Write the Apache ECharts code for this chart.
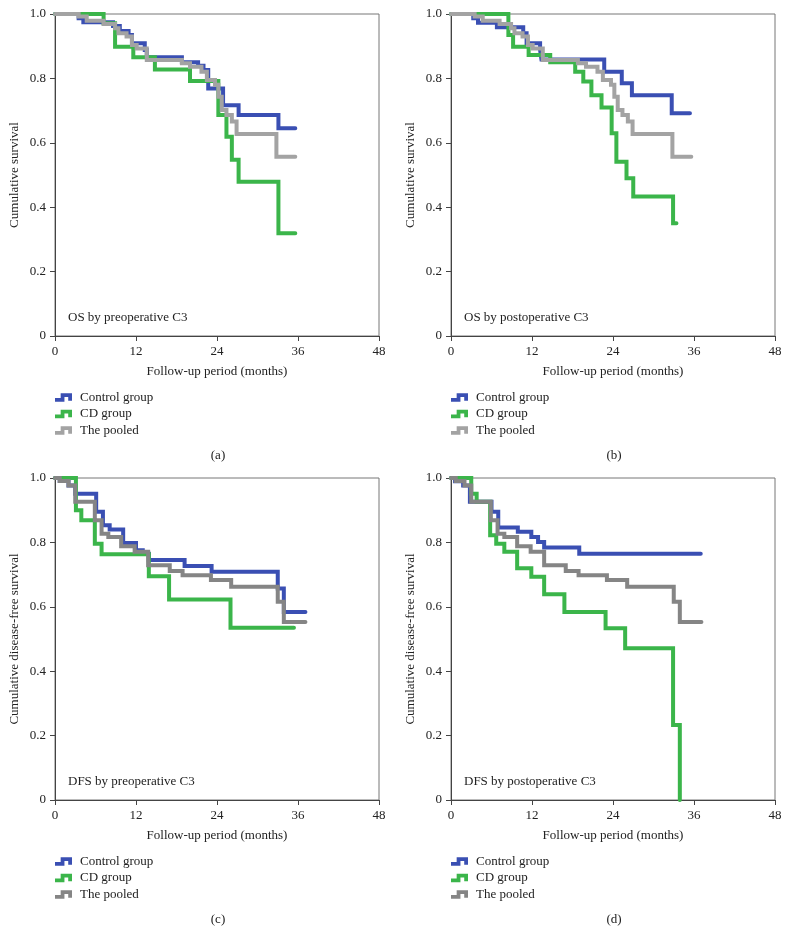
<!DOCTYPE html>
<html>
<head>
<meta charset="utf-8">
<script src="https://cdn.jsdelivr.net/npm/echarts@6/dist/echarts.min.js"></script>
<style>
html,body{margin:0;padding:0;background:#fff;}
#chart{width:789px;height:945px;}
</style>
</head>
<body>
<div id="chart"></div>
<script>
// ---- Data (months, cumulative survival) ----
const xTicks = [0, 12, 24, 36, 48];
const yTicks = [0, 0.2, 0.4, 0.6, 0.8, 1.0];
const seriesNames = ['Control group', 'CD group', 'The pooled'];
const panelLetters = ['(a)', '(b)', '(c)', '(d)'];
const panelNotes = ['OS by preoperative C3', 'OS by postoperative C3', 'DFS by preoperative C3', 'DFS by postoperative C3'];
const yTitles = ['Cumulative survival', 'Cumulative survival', 'Cumulative disease-free survival', 'Cumulative disease-free survival'];

// (a) OS by preoperative C3
const osPreControl = [[0,1],[3.5,0.987],[4.2,0.974],[8.6,0.963],[9.6,0.947],[10.9,0.935],[11.4,0.909],[13.3,0.888],[13.6,0.866],[18.8,0.85],[21.2,0.839],[22.0,0.826],[22.7,0.769],[24.9,0.717],[27.2,0.686],[33.1,0.645],[35.6,0.645]];
const osPreCD = [[0,1],[7.2,0.971],[8.9,0.898],[11.6,0.866],[14.8,0.828],[20.0,0.792],[24.2,0.686],[25.4,0.619],[26.2,0.547],[27.2,0.479],[33.1,0.319],[35.6,0.319]];
const osPooled = [[0,1],[3.5,0.992],[4.7,0.979],[7.2,0.969],[8.9,0.956],[9.4,0.94],[10.6,0.93],[11.4,0.904],[12.1,0.893],[13.6,0.857],[18.8,0.847],[20.0,0.836],[21.7,0.821],[22.5,0.795],[23.7,0.78],[24.2,0.743],[24.7,0.702],[25.4,0.686],[26.2,0.666],[26.9,0.627],[32.8,0.557],[35.6,0.557]];
// (b) OS by postoperative C3
const osPostControl = [[0,1],[3.3,0.987],[4.0,0.973],[6.8,0.959],[10.7,0.94],[11.2,0.909],[13.2,0.888],[13.4,0.859],[22.7,0.821],[25.3,0.785],[26.8,0.748],[32.7,0.692],[35.4,0.692]];
const osPostCD = [[0,1],[8.5,0.935],[9.2,0.898],[11.5,0.873],[14.7,0.85],[18.4,0.821],[19.6,0.79],[20.8,0.748],[22.3,0.71],[23.8,0.63],[24.5,0.541],[26.0,0.49],[27.0,0.433],[32.9,0.35],[33.4,0.35]];
// (c) DFS by preoperative C3
const dfsPreControl = [[0,1],[0.7,0.991],[2.0,0.977],[3.0,0.951],[6.1,0.895],[7.1,0.853],[8.1,0.84],[10.1,0.798],[12.0,0.776],[13.0,0.765],[13.9,0.745],[19.2,0.727],[23.2,0.709],[33.0,0.657],[33.9,0.584],[37.1,0.584]];
const dfsPreCD = [[0,1],[3.1,0.9],[3.9,0.869],[5.9,0.796],[6.9,0.763],[13.9,0.695],[16.9,0.623],[26.0,0.535],[35.4,0.535]];
const dfsPooled = [[0,1],[0.7,0.991],[2.0,0.977],[3.0,0.926],[5.9,0.869],[6.9,0.827],[7.9,0.817],[9.8,0.788],[11.8,0.771],[13.8,0.729],[17.0,0.711],[18.9,0.698],[23.1,0.683],[26.1,0.662],[33.0,0.616],[33.9,0.553],[37.1,0.553]];
// (d) DFS by postoperative C3
const dfsPostControl = [[0,1],[0.6,0.99],[1.8,0.977],[2.8,0.926],[6.0,0.895],[7.0,0.846],[9.9,0.833],[11.9,0.817],[12.9,0.801],[13.8,0.784],[19.0,0.765],[37.0,0.765]];
const dfsPostCD = [[0,1],[3.0,0.951],[3.8,0.926],[5.8,0.822],[6.7,0.796],[7.9,0.771],[9.8,0.72],[11.9,0.693],[13.8,0.639],[16.8,0.584],[22.9,0.533],[25.8,0.471],[32.9,0.233],[33.9,0]];

const panelData = [
  [osPreControl, osPreCD, osPooled],
  [osPostControl, osPostCD, osPooled],
  [dfsPreControl, dfsPreCD, dfsPooled],
  [dfsPostControl, dfsPostCD, dfsPooled]
];

// ---- Styles ----
const FONT = '"Liberation Serif", "DejaVu Serif", serif';
const BLUE = '#3a4fb3';
const GREEN = '#3bb54a';
const GREY_TOP = '#a3a3a3';
const GREY_BOT = '#858585';
const grids = [
  {left: 55, top: 14, width: 324, height: 322},
  {left: 451, top: 14, width: 324, height: 322},
  {left: 55, top: 478, width: 324, height: 322},
  {left: 451, top: 478, width: 324, height: 322}
];
const ICON = 'path://M0,5 L6,5 L6,0 L18,0 L18,8 L14,8 L14,4 L10,4 L10,9 L0,9 Z';

const option = {
  animation: false,
  backgroundColor: '#fff',
  grid: grids.map(g => Object.assign({show: true, borderColor: '#777', borderWidth: 1, containLabel: false}, g)),
  xAxis: grids.map((g, i) => ({
    type: 'value', gridIndex: i, min: xTicks[0], max: xTicks[xTicks.length - 1], interval: 12,
    name: 'Follow-up period (months)', nameLocation: 'middle', nameGap: 29,
    nameTextStyle: {fontFamily: FONT, fontSize: 13, color: '#222'},
    axisLine: {show: true, onZero: false, lineStyle: {color: '#444', width: 1}},
    axisTick: {show: true, length: 5, inside: false, lineStyle: {color: '#444'}},
    axisLabel: {fontFamily: FONT, fontSize: 13, color: '#222', margin: 9},
    splitLine: {show: false}
  })),
  yAxis: grids.map((g, i) => ({
    type: 'value', gridIndex: i, min: yTicks[0], max: yTicks[yTicks.length - 1], interval: 0.2,
    name: yTitles[i], nameLocation: 'middle', nameGap: 34, nameRotate: 90,
    nameTextStyle: {fontFamily: FONT, fontSize: 13, color: '#222'},
    axisLine: {show: true, onZero: false, lineStyle: {color: '#444', width: 1}},
    axisTick: {show: true, length: 5, inside: false, lineStyle: {color: '#444'}},
    axisLabel: {fontFamily: FONT, fontSize: 13, color: '#222', margin: 9,
      formatter: v => (v === 0 ? '0' : v.toFixed(1))},
    splitLine: {show: false}
  })),
  legend: grids.map((g, i) => ({
    orient: 'vertical', left: g.left - 5, top: g.top + 322 + 50,
    itemWidth: 17, itemHeight: 9, itemGap: 3.5,
    textStyle: {fontFamily: FONT, fontSize: 13, color: '#222', padding: [0, 0, 0, 3]},
    selectedMode: false,
    data: seriesNames.map((n, k) => ({
      name: n, icon: ICON,
      itemStyle: {color: k === 0 ? BLUE : (k === 1 ? GREEN : (i < 2 ? GREY_TOP : GREY_BOT))}
    }))
  })),
  graphic: grids.flatMap((g, i) => [
    {type: 'text', left: g.left + 13, top: g.top + 322 - 25, silent: true,
     style: {text: panelNotes[i], font: '13px ' + FONT, fill: '#222'}},
    {type: 'text', x: g.left + 163, y: g.top + 322 + 120, silent: true,
     style: {text: panelLetters[i], font: '13px ' + FONT, fill: '#222', textAlign: 'center', textVerticalAlign: 'middle'}}
  ]),
  series: []
};

panelData.forEach((sets, i) => {
  const order = [2, 0, 1];
  order.forEach(k => {
    const color = k === 0 ? BLUE : (k === 1 ? GREEN : (i < 2 ? GREY_TOP : GREY_BOT));
    option.series.push({
      name: seriesNames[k], type: 'line', step: 'end',
      xAxisIndex: i, yAxisIndex: i,
      data: sets[k], showSymbol: false, symbol: 'none',
      lineStyle: {color: color, width: 4, cap: 'round', join: 'miter'},
      itemStyle: {color: color},
      z: 2 + k
    });
  });
});

const chart = echarts.init(document.getElementById('chart'), null, {renderer: 'canvas'});
chart.setOption(option);
</script>
</body>
</html>
